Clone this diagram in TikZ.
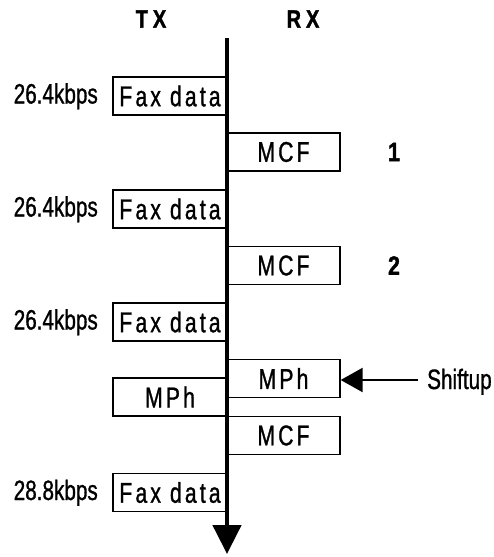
\documentclass[tikz,border=0pt]{standalone}
\usepackage{fontspec}
\setmainfont{Liberation Sans}[FakeStretch=0.74, FakeBold=1]
\newfontfamily\spacedfont{Liberation Sans}[FakeStretch=0.74, FakeBold=1, LetterSpace=11]
\newfontfamily\headfont{Liberation Sans Bold}[FakeStretch=0.8, FakeBold=1.5, LetterSpace=20]
\newfontfamily\numfont{Liberation Sans Bold}[FakeStretch=0.8, FakeBold=1.5]
\usetikzlibrary{arrows.meta}
\begin{document}
\begin{tikzpicture}[x=1pt,y=-1pt,
  msg/.style={draw, line width=1.3pt, minimum height=38pt, inner sep=0pt,
    font=\fontsize{28.6}{30}\selectfont\spacedfont},
  txbox/.style={msg, minimum width=114pt},
  rxbox/.style={msg, minimum width=113pt},
  rate/.style={anchor=base east, inner sep=0pt, font=\fontsize{28}{30}\selectfont},
  head/.style={inner sep=0pt, font=\headfont\fontsize{25}{28}\selectfont},
  num/.style={inner sep=0pt, font=\numfont\fontsize{26.5}{28}\selectfont},
  axisline/.style={line width=4.7pt, -{Triangle[length=29pt,width=28pt]}},
  shiftarrow/.style={line width=2.2pt, -{Triangle[length=22pt,width=24pt]}}]
\useasboundingbox (0,0) rectangle (493,557);

\node[head] (tx) at (151,19) {TX};
\node[head] (rx) at (303,19) {RX};

% boxes
\node[txbox] (fd1) at (170,96) {Fax data};
\node[rxbox] (mcf1) at (283.5,152) {MCF};
\node[txbox] (fd2) at (170,209) {Fax data};
\node[rxbox] (mcf2) at (283.5,265.5) {MCF};
\node[txbox] (fd3) at (170,322) {Fax data};
\node[rxbox] (mphr) at (283.5,378.5) {MPh};
\node[txbox] (mpht) at (170,397) {MPh};
\node[rxbox] (mcf3) at (283.5,435.5) {MCF};
\node[txbox] (fd4) at (170,492.5) {Fax data};

% rates
\node[rate] (r1) at (98,103.5) {26.4kbps};
\node[rate] (r2) at (98,216.5) {26.4kbps};
\node[rate] (r3) at (98,329.5) {26.4kbps};
\node[rate] (r4) at (98,500) {28.8kbps};

% numbers
\node[num] (n1) at (394,152) {1};
\node[num] (n2) at (394,265.5) {2};

% shiftup
\node[anchor=base west, inner xsep=9pt, inner ysep=0pt, font=\fontsize{28}{30}\selectfont] (sh) at (418,389) {Shiftup};
\draw[shiftarrow] (sh.west |- 0,380) -- (mphr.east |- 0,380);

% time axis
\coordinate (top) at (227,38);
\coordinate (bot) at (227,554);
\draw[axisline] (top) -- (bot);
\end{tikzpicture}
\end{document}
